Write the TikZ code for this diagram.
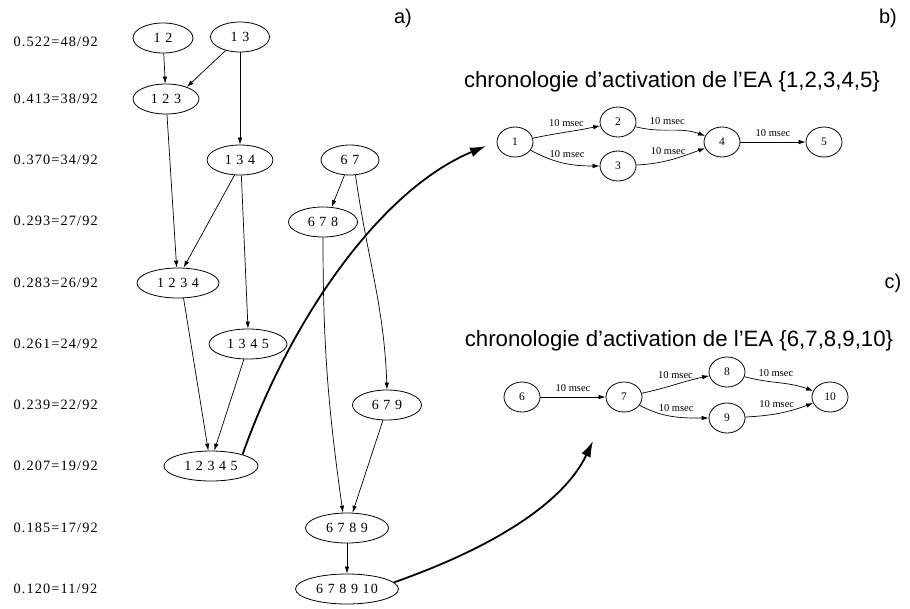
\documentclass[tikz,border=0pt]{standalone}
\usepackage{fontspec}
\setmainfont{Liberation Serif}
\newfontfamily\gv[LetterSpace=8]{Liberation Serif}
\newfontfamily\hv{Liberation Sans}
\usetikzlibrary{shapes.geometric,arrows.meta}
\begin{document}
\begin{tikzpicture}[x=1pt,y=-1pt,
  el/.style={draw,ellipse,line width=0.8pt,inner sep=0pt,minimum height=30pt,font=\gv\fontsize{14}{14}\selectfont},
  sm/.style={draw,ellipse,line width=0.8pt,inner sep=0pt,minimum width=36pt,minimum height=30pt,font=\rmfamily\fontsize{11.5}{11.5}\selectfont},
  lev/.style={anchor=west,font=\gv\fontsize{14.3}{15}\selectfont},
  ar/.style={-{Latex[length=7pt,width=4.5pt]},line width=0.7pt},
  big/.style={-{Latex[length=16pt,width=10pt]},line width=1.8pt},
  ms/.style={font=\rmfamily\fontsize{10.5}{10.5}\selectfont,above=2pt},
  lab/.style={font=\hv\fontsize{20}{20}\selectfont},
  ttl/.style={font=\hv\fontsize{22.2}{22.2}\selectfont}]
\useasboundingbox (0,0) rectangle (910,608);
% level labels
\node[lev] (l1) at (10,42) {0.522=48/92};
\node[lev] (l2) at (10,99) {0.413=38/92};
\node[lev] (l3) at (10,160) {0.370=34/92};
\node[lev] (l4) at (10,221) {0.293=27/92};
\node[lev] (l5) at (10,283) {0.283=26/92};
\node[lev] (l6) at (10,344) {0.261=24/92};
\node[lev] (l7) at (10,405) {0.239=22/92};
\node[lev] (l8) at (10,466) {0.207=19/92};
\node[lev] (l9) at (10,528) {0.185=17/92};
\node[lev] (l10) at (10,589) {0.120=11/92};
% lattice nodes
\node[el,minimum width=60pt] (n12) at (163,38) {1 2};
\node[el,minimum width=59pt] (n13) at (240,37) {1 3};
\node[el,minimum width=66pt] (n123) at (166,99) {1 2 3};
\node[el,minimum width=66pt] (n134) at (240,160) {1 3 4};
\node[el,minimum width=58pt] (n67) at (350,160) {6 7};
\node[el,minimum width=69pt] (n678) at (323,222) {6 7 8};
\node[el,minimum width=82pt] (n1234) at (178,283) {1 2 3 4};
\node[el,minimum width=78pt] (n1345) at (248,344) {1 3 4 5};
\node[el,minimum width=69pt] (n679) at (387,405) {6 7 9};
\node[el,minimum width=94pt] (n12345) at (211,466) {1 2 3 4 5};
\node[el,minimum width=83pt] (n6789) at (347,528) {6 7 8 9};
\node[el,minimum width=103pt] (n678910) at (347,589) {6 7 8 9 10};
% lattice edges
\draw[ar] (n12) -- (n123);
\draw[ar] (n13) -- (n123.30);
\draw[ar] (n13.-90) -- (n134.90);
\draw[ar] (n123) -- (n1234.95);
\draw[ar] (n134.250) -- (n1234.70);
\draw[ar] (n134.275) -- (n1345.90);
\draw[ar] (n67.250) -- (n678.60);
\draw[ar] (n67.290) to[out=-82,in=92] (n679.90);
\draw[ar] (n678.-90) to[out=-90,in=98] (n6789.105);
\draw[ar] (n1234.290) -- (n12345.100);
\draw[ar] (n1345.255) -- (n12345.78);
\draw[ar] (n679.255) -- (n6789.70);
\draw[ar] (n6789) -- (n678910);
% panel labels
\node[lab] (la) at (403,18) {a)};
\node[lab] (lb) at (888,18) {b)};
\node[lab] (lc) at (893,283) {c)};
\node[ttl] (tb) at (672,82) {chronologie d’activation de l’EA \{1,2,3,4,5\}};
\node[ttl] (tc) at (679,341) {chronologie d’activation de l’EA \{6,7,8,9,10\}};
% graph b
\node[sm] (b1) at (515,142) {1};
\node[sm] (b2) at (618,122) {2};
\node[sm] (b3) at (618,166) {3};
\node[sm] (b4) at (722,142) {4};
\node[sm] (b5) at (824,142) {5};
\draw[ar] (b1) to[out=12,in=192] node[ms] {10 msec} (b2);
\draw[ar] (b1) to[out=-28,in=180] node[ms,pos=0.55] {10 msec} (b3);
\draw[ar] (b2) to[out=-15,in=160] node[ms,pos=0.45] {10 msec} (b4);
\draw[ar] (b3) to[out=3,in=200] node[ms,pos=0.45] {10 msec} (b4);
\draw[ar] (b4) -- node[ms] {10 msec} (b5);
% graph c
\node[sm] (c6) at (522,397) {6};
\node[sm] (c7) at (624,397) {7};
\node[sm] (c8) at (727,372) {8};
\node[sm] (c9) at (727,418) {9};
\node[sm] (c10) at (830,397) {10};
\draw[ar] (c6) -- node[ms] {10 msec} (c7);
\draw[ar] (c7) to[out=12,in=192] node[ms] {10 msec} (c8);
\draw[ar] (c7) to[out=-28,in=180] node[ms,pos=0.55] {10 msec} (c9);
\draw[ar] (c8) to[out=-15,in=160] node[ms,pos=0.45] {10 msec} (c10);
\draw[ar] (c9) to[out=3,in=200] node[ms,pos=0.45] {10 msec} (c10);
% thick arrows
\coordinate (tipb) at (486,146);
\coordinate (tipc) at (593,441);
\draw[big] (n12345.20) .. controls (290,320) and (380,190) .. (tipb);
\draw[big] (n678910.8) .. controls (500,545) and (565,500) .. (tipc);
\end{tikzpicture}
\end{document}
